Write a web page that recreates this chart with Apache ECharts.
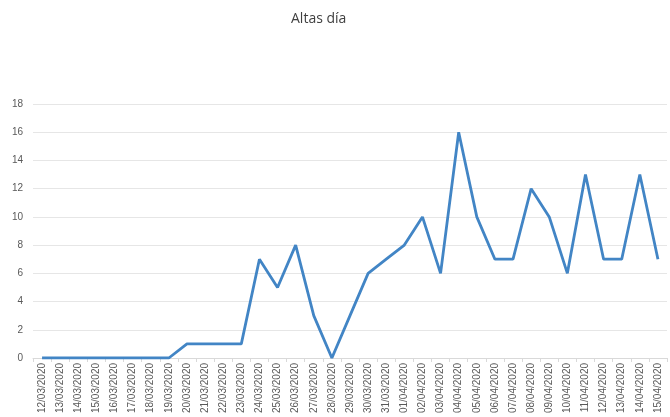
<!DOCTYPE html>
<html><head><meta charset="utf-8">
<script src="https://cdn.jsdelivr.net/npm/echarts@6/dist/echarts.min.js"></script>
<style>html,body{margin:0;padding:0;background:#fff}#c{width:670px;height:417px}</style>
</head><body><div id="c"></div>
<script>
const title = "Altas día";
const categories = ["12/03/2020","13/03/2020","14/03/2020","15/03/2020","16/03/2020","17/03/2020","18/03/2020","19/03/2020","20/03/2020","21/03/2020","22/03/2020","23/03/2020","24/03/2020","25/03/2020","26/03/2020","27/03/2020","28/03/2020","29/03/2020","30/03/2020","31/03/2020","01/04/2020","02/04/2020","03/04/2020","04/04/2020","05/04/2020","06/04/2020","07/04/2020","08/04/2020","09/04/2020","10/04/2020","11/04/2020","12/04/2020","13/04/2020","14/04/2020","15/04/2020"];
const altas = [0,0,0,0,0,0,0,0,1,1,1,1,7,5,8,3,0,3,6,7,8,10,6,16,10,7,7,12,10,6,13,7,7,13,7];
const yTicks = {min:0,max:18,interval:2};
const chart = echarts.init(document.getElementById('c'), null, {renderer:'canvas'});
chart.setOption({
  animation:false,
  title:{text:title,left:286,top:7,textStyle:{fontFamily:'Open Sans, Noto Sans, sans-serif',fontWeight:'normal',fontSize:14,color:'#404040'}},
  grid:{left:33,right:3,top:104,bottom:59,containLabel:false},
  xAxis:{type:'category',data:categories,boundaryGap:true,
    axisLine:{lineStyle:{color:'#d9d9d9'}},
    axisTick:{show:true,length:4,lineStyle:{color:'#d9d9d9'}},
    axisLabel:{rotate:90,interval:0,fontSize:10,color:'#595959',fontFamily:'Liberation Sans, Arial, sans-serif',margin:5}},
  yAxis:{type:'value',min:yTicks.min,max:yTicks.max,interval:yTicks.interval,
    axisLine:{show:false},axisTick:{show:false},
    splitLine:{lineStyle:{color:'#e6e6e6'}},
    axisLabel:{fontSize:10,color:'#595959',fontFamily:'Liberation Sans, Arial, sans-serif',margin:10}},
  series:[{type:'line',data:altas,symbol:'none',lineStyle:{color:'#4285c5',width:2.8}}]
});
</script></body></html>
